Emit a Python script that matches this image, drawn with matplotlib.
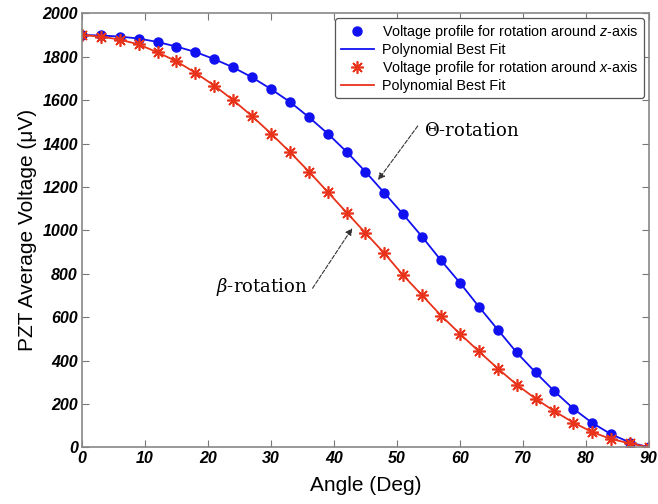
import matplotlib
matplotlib.use('Agg')
import matplotlib.pyplot as plt
import numpy as np

# angle in degrees, voltage in microvolts
angle = np.arange(0, 91, 3)
volt_z = [1900, 1898, 1893, 1884, 1868, 1847, 1822, 1789, 1751, 1705,
          1651, 1592, 1522, 1446, 1362, 1270, 1172, 1073, 970, 861,
          758, 648, 542, 437, 345, 258, 178, 112, 60, 22, 0]
volt_x = [1900, 1893, 1879, 1857, 1820, 1779, 1726, 1667, 1600, 1526,
          1446, 1361, 1271, 1177, 1082, 988, 894, 792, 700, 607,
          523, 442, 363, 289, 224, 166, 114, 70, 38, 18, 0]

xticks = np.arange(0, 91, 10)
yticks = np.arange(0, 2001, 200)

plt.rcParams['font.family'] = ['Liberation Sans', 'DejaVu Sans']
plt.rcParams['mathtext.fontset'] = 'custom'
plt.rcParams['mathtext.it'] = 'DejaVu Serif:italic'
plt.rcParams['mathtext.sf'] = 'Liberation Sans:italic'
plt.rcParams['mathtext.rm'] = 'DejaVu Serif'

fig = plt.figure(figsize=(6.58, 5.04), dpi=100)
ax = fig.add_axes([0.1246, 0.1125, 0.8617, 0.861])

blue = '#1010f0'
red = '#e8321a'

ax.plot(angle, volt_z, 'o', color=blue, markersize=6.5,
        label='Voltage profile for rotation around $\\mathsf{z}$-axis')
ax.plot(angle, volt_z, '-', color=blue, lw=1.3, label='Polynomial Best Fit')
ax.plot(angle, volt_x, marker=(8, 2, 0), ls='none', color=red, markersize=9,
        markeredgewidth=1.2,
        label='Voltage profile for rotation around $\\mathsf{x}$-axis')
ax.plot(angle, volt_x, '-', color=red, lw=1.3, label='Polynomial Best Fit')

ax.set_xlim(0, 90)
ax.set_ylim(0, 2000)
ax.set_xticks(xticks)
ax.set_yticks(yticks)
ax.tick_params(direction='in', top=True, right=True, length=5, color='#777777',
               labelsize=11.5, pad=3)
for lab in ax.get_xticklabels() + ax.get_yticklabels():
    lab.set_fontweight('bold')
    lab.set_fontstyle('italic')
for s in ax.spines.values():
    s.set_color('#888888')
    s.set_linewidth(1.2)

ax.set_xlabel('Angle (Deg)', fontsize=15, labelpad=7)
ax.set_ylabel('PZT Average Voltage (\u03bcV)', fontsize=15, labelpad=4)

leg = ax.legend(loc='upper right', fontsize=10.4, frameon=True, fancybox=True,
                edgecolor='#555555', handlelength=2.3, handletextpad=0.6,
                borderpad=0.35, labelspacing=0.12, borderaxespad=0.35,
                framealpha=1)
leg.get_frame().set_linewidth(0.9)

# annotations: text and dashed arrows
ax.text(54.3, 1457, '$\\mathit{\\Theta}$-rotation', fontsize=13,
        family=['DejaVu Serif'], va='center', ha='left')
ax.annotate('', xy=(47.0, 1232), xytext=(53.3, 1481),
            arrowprops=dict(arrowstyle='-|>', ls='--', color='#333333', lw=0.8,
                            shrinkA=0, shrinkB=0, mutation_scale=10))
ax.text(35.8, 740, '$\\mathit{\\beta}$-rotation', fontsize=13,
        family=['DejaVu Serif'], va='center', ha='right')
ax.annotate('', xy=(42.9, 1010), xytext=(36.6, 733),
            arrowprops=dict(arrowstyle='-|>', ls='--', color='#333333', lw=0.8,
                            shrinkA=0, shrinkB=0, mutation_scale=10))

fig.savefig('out.png', dpi=100)
